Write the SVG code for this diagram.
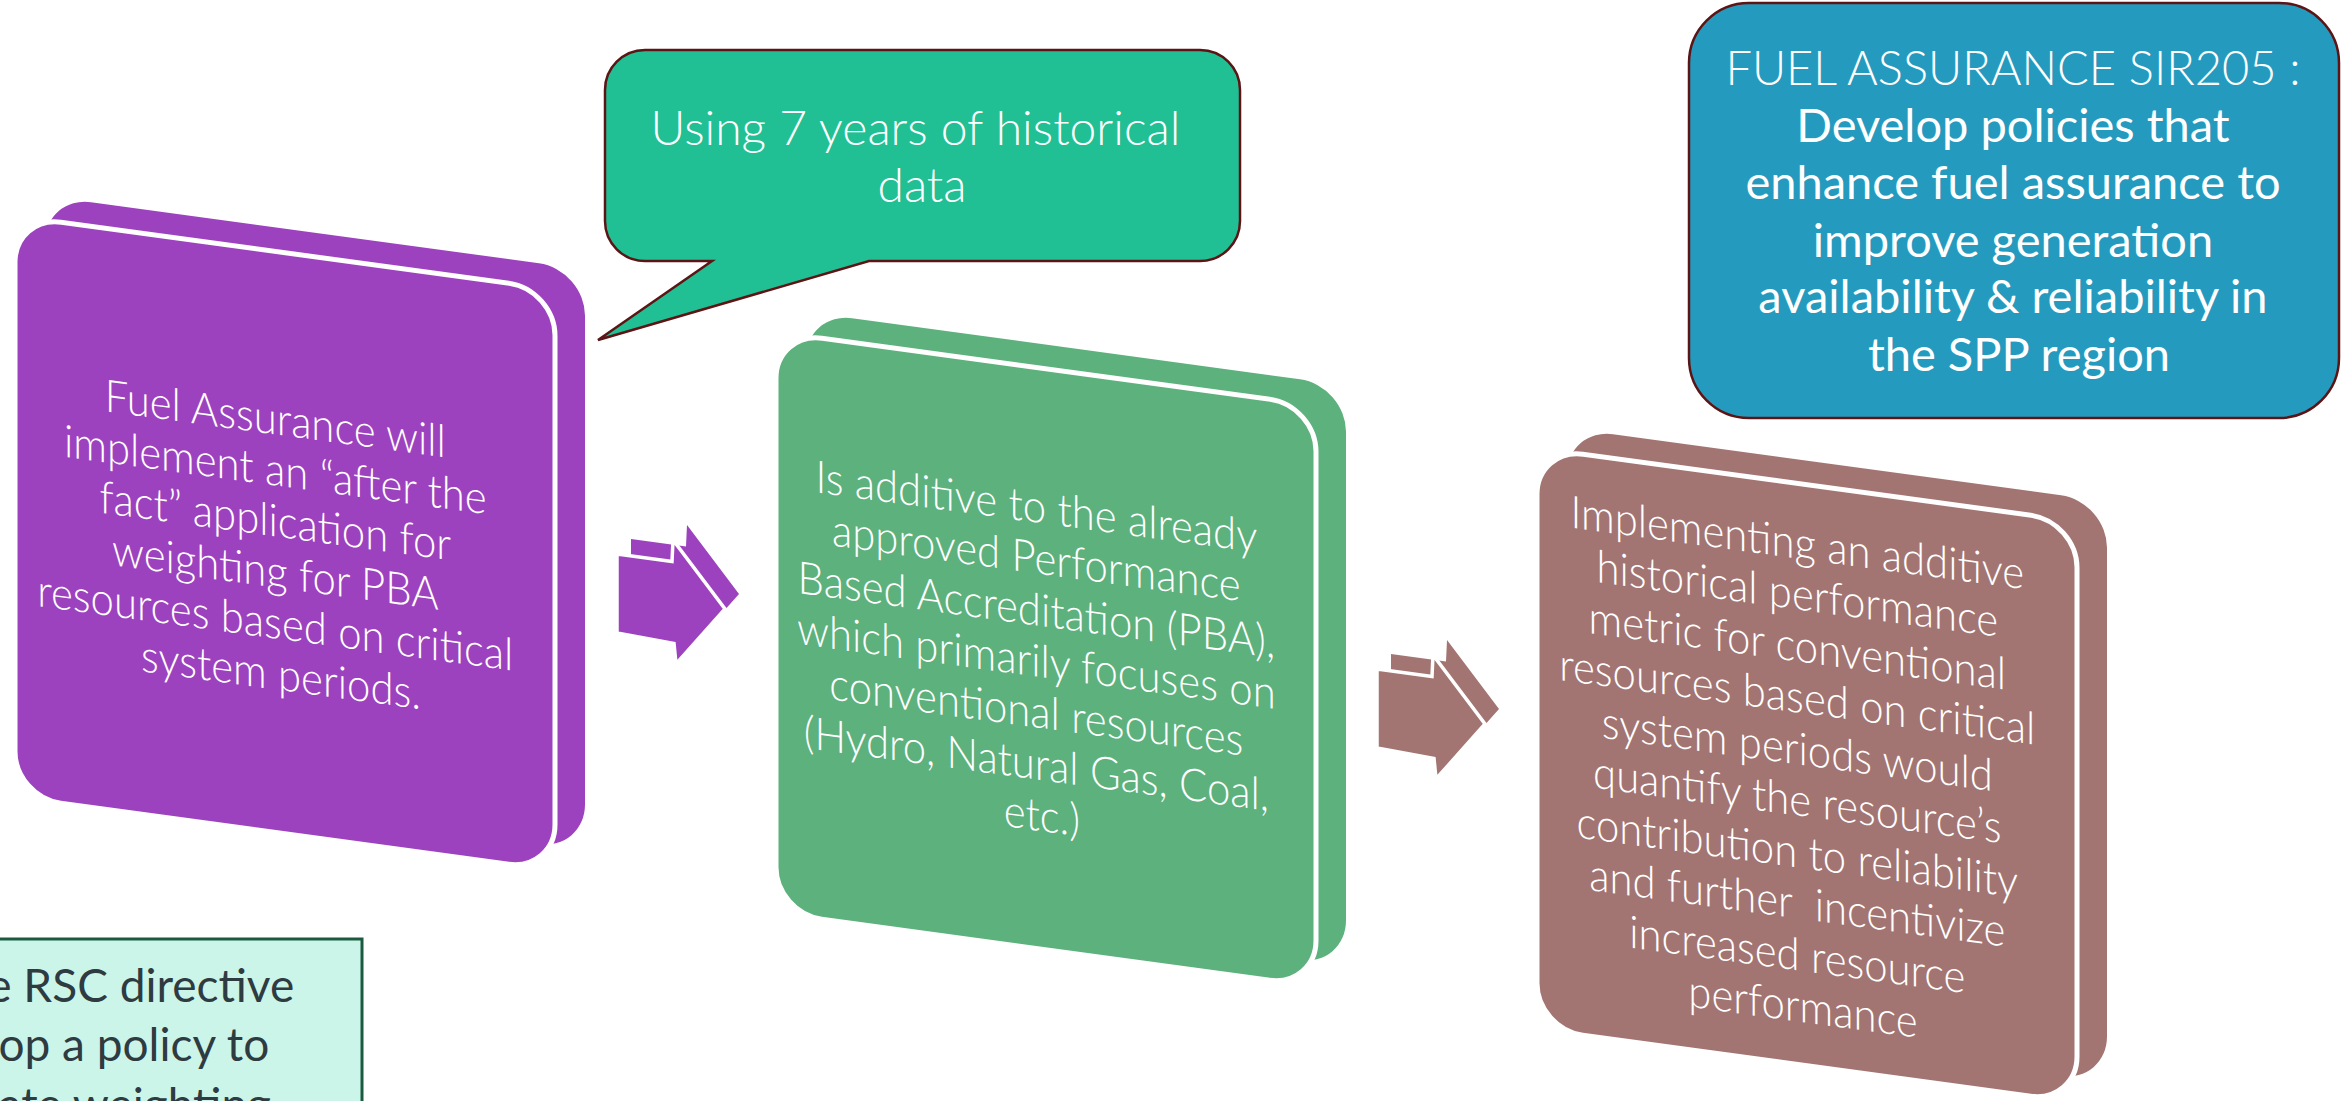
<svg xmlns="http://www.w3.org/2000/svg" width="2341" height="1101" viewBox="0 0 2341 1101">
  <defs>
    <style>
      .card-text{font-family:Lato,"Open Sans","Liberation Sans",sans-serif;font-size:45px;font-weight:300;fill:#ffffff;text-anchor:middle}
      .front{stroke:#ffffff;stroke-width:5}
      .arrow-front{stroke:#ffffff;stroke-width:3.5;stroke-linejoin:miter}
      .purple{fill:#9d42be}
      .green{fill:#5db17d}
      .brown{fill:#a37572}
      .callout-text{font-family:Lato,"Open Sans","Liberation Sans",sans-serif;fill:#ffffff;text-anchor:middle}
      .note-text{font-family:Lato,"Open Sans","Liberation Sans",sans-serif;font-size:46px;fill:#2e3b41;text-anchor:end}
    </style>
    <!-- tilted slab used by each step card (front face and its extruded back) -->
    <rect id="card" x="0" y="0" width="540" height="581" rx="46" ry="46"/>
    <!-- block arrow between cards -->
    <path id="arrow" d="M0,0 L55,7.5 L56,-14 L108,55 L59,110 L57,89.5 L0,79 Z"/>
  </defs>

  <rect x="0" y="0" width="2341" height="1101" fill="#ffffff"/>

  <!-- Step 1 -->
  <g id="step-after-the-fact">
    <use href="#card" class="purple" transform="translate(45,196) skewY(7.75)"/>
    <g transform="translate(15,216) skewY(7.75)">
      <use href="#card" class="purple front"/>
      <text class="card-text" transform="translate(266,0) scale(0.93,1)">
        <tspan x="0" y="183">Fuel Assurance will</tspan>
        <tspan x="0" y="234">implement an “after the</tspan>
        <tspan x="0" y="285">fact” application for</tspan>
        <tspan x="0" y="336">weighting for PBA</tspan>
        <tspan x="0" y="387">resources based on critical</tspan>
        <tspan x="0" y="438">system periods.</tspan>
      </text>
    </g>
  </g>

  <!-- Step 2 -->
  <g id="step-additive-pba">
    <use href="#card" class="green" transform="translate(806,312) skewY(7.75)"/>
    <g transform="translate(776,332) skewY(7.75)">
      <use href="#card" class="green front"/>
      <text class="card-text" transform="translate(266,0) scale(0.93,1)">
        <tspan x="0" y="155">Is additive to the already</tspan>
        <tspan x="0" y="206">approved Performance</tspan>
        <tspan x="0" y="258">Based Accreditation (PBA),</tspan>
        <tspan x="0" y="309">which primarily focuses on</tspan>
        <tspan x="0" y="360">conventional resources</tspan>
        <tspan x="0" y="412">(Hydro, Natural Gas, Coal,</tspan>
        <tspan x="0" y="463">etc.)</tspan>
      </text>
    </g>
  </g>

  <!-- Step 3 -->
  <g id="step-historical-metric">
    <use href="#card" class="brown" transform="translate(1567,428) skewY(7.75)"/>
    <g transform="translate(1537,448) skewY(7.75)">
      <use href="#card" class="brown front"/>
      <text class="card-text" transform="translate(266,0) scale(0.93,1)">
        <tspan x="0" y="75">Implementing an additive</tspan>
        <tspan x="0" y="126">historical performance</tspan>
        <tspan x="0" y="178">metric for conventional</tspan>
        <tspan x="0" y="229">resources based on critical</tspan>
        <tspan x="0" y="281">system periods would</tspan>
        <tspan x="0" y="332">quantify the resource’s</tspan>
        <tspan x="0" y="384">contribution to reliability</tspan>
        <tspan x="0" y="435">and further&#160; incentivize</tspan>
        <tspan x="0" y="487">increased resource</tspan>
        <tspan x="0" y="538">performance</tspan>
      </text>
    </g>
  </g>

  <!-- Callout bubble -->
  <g id="callout-historical-data">
    <path d="M645,50 H1200 A40,40 0 0 1 1240,90 V221 A40,40 0 0 1 1200,261 H869 L598,340 L712,261 H645 A40,40 0 0 1 605,221 V90 A40,40 0 0 1 645,50 Z" fill="#21c094" stroke="#5c1414" stroke-width="2.5"/>
    <text class="callout-text" font-size="48" font-weight="300">
      <tspan x="922" y="145">Using 7 years of historical</tspan>
      <tspan x="922" y="202">data</tspan>
    </text>
  </g>

  <!-- Objective box -->
  <g id="objective-sir205">
    <rect x="1689" y="3" width="650" height="415" rx="60" ry="60" fill="#249bbe" stroke="#5c1414" stroke-width="2.5"/>
    <text class="callout-text" font-size="47">
      <tspan x="2019" y="85" font-weight="300">FUEL ASSURANCE SIR205 :</tspan>
      <tspan x="2019" y="142">Develop policies that</tspan>
      <tspan x="2019" y="199">enhance fuel assurance to</tspan>
      <tspan x="2019" y="257">improve generation</tspan>
      <tspan x="2019" y="313">availability &amp; reliability in</tspan>
      <tspan x="2019" y="371">the SPP region</tspan>
    </text>
  </g>

  <!-- Directive note -->
  <g id="note-rsc-directive">
    <rect x="-10" y="939" width="372" height="190" fill="#ccf5ea" stroke="#1b5a40" stroke-width="3"/>
    <text class="note-text">
      <tspan x="306" y="1002">e RSC directive</tspan>
      <tspan x="281" y="1061">op a policy to</tspan>
      <tspan x="271" y="1121">ate weighting</tspan>
    </text>
  </g>

  <!-- Flow arrows between steps -->
  <g id="connectors">
    <g id="arrow-step1-step2">
      <use href="#arrow" class="purple" transform="translate(631,539)"/>
      <use href="#arrow" class="purple arrow-front" transform="translate(617,554)"/>
    </g>
    <g id="arrow-step2-step3">
      <use href="#arrow" class="brown" transform="translate(1391,654)"/>
      <use href="#arrow" class="brown arrow-front" transform="translate(1377,669)"/>
    </g>
  </g>
</svg>
